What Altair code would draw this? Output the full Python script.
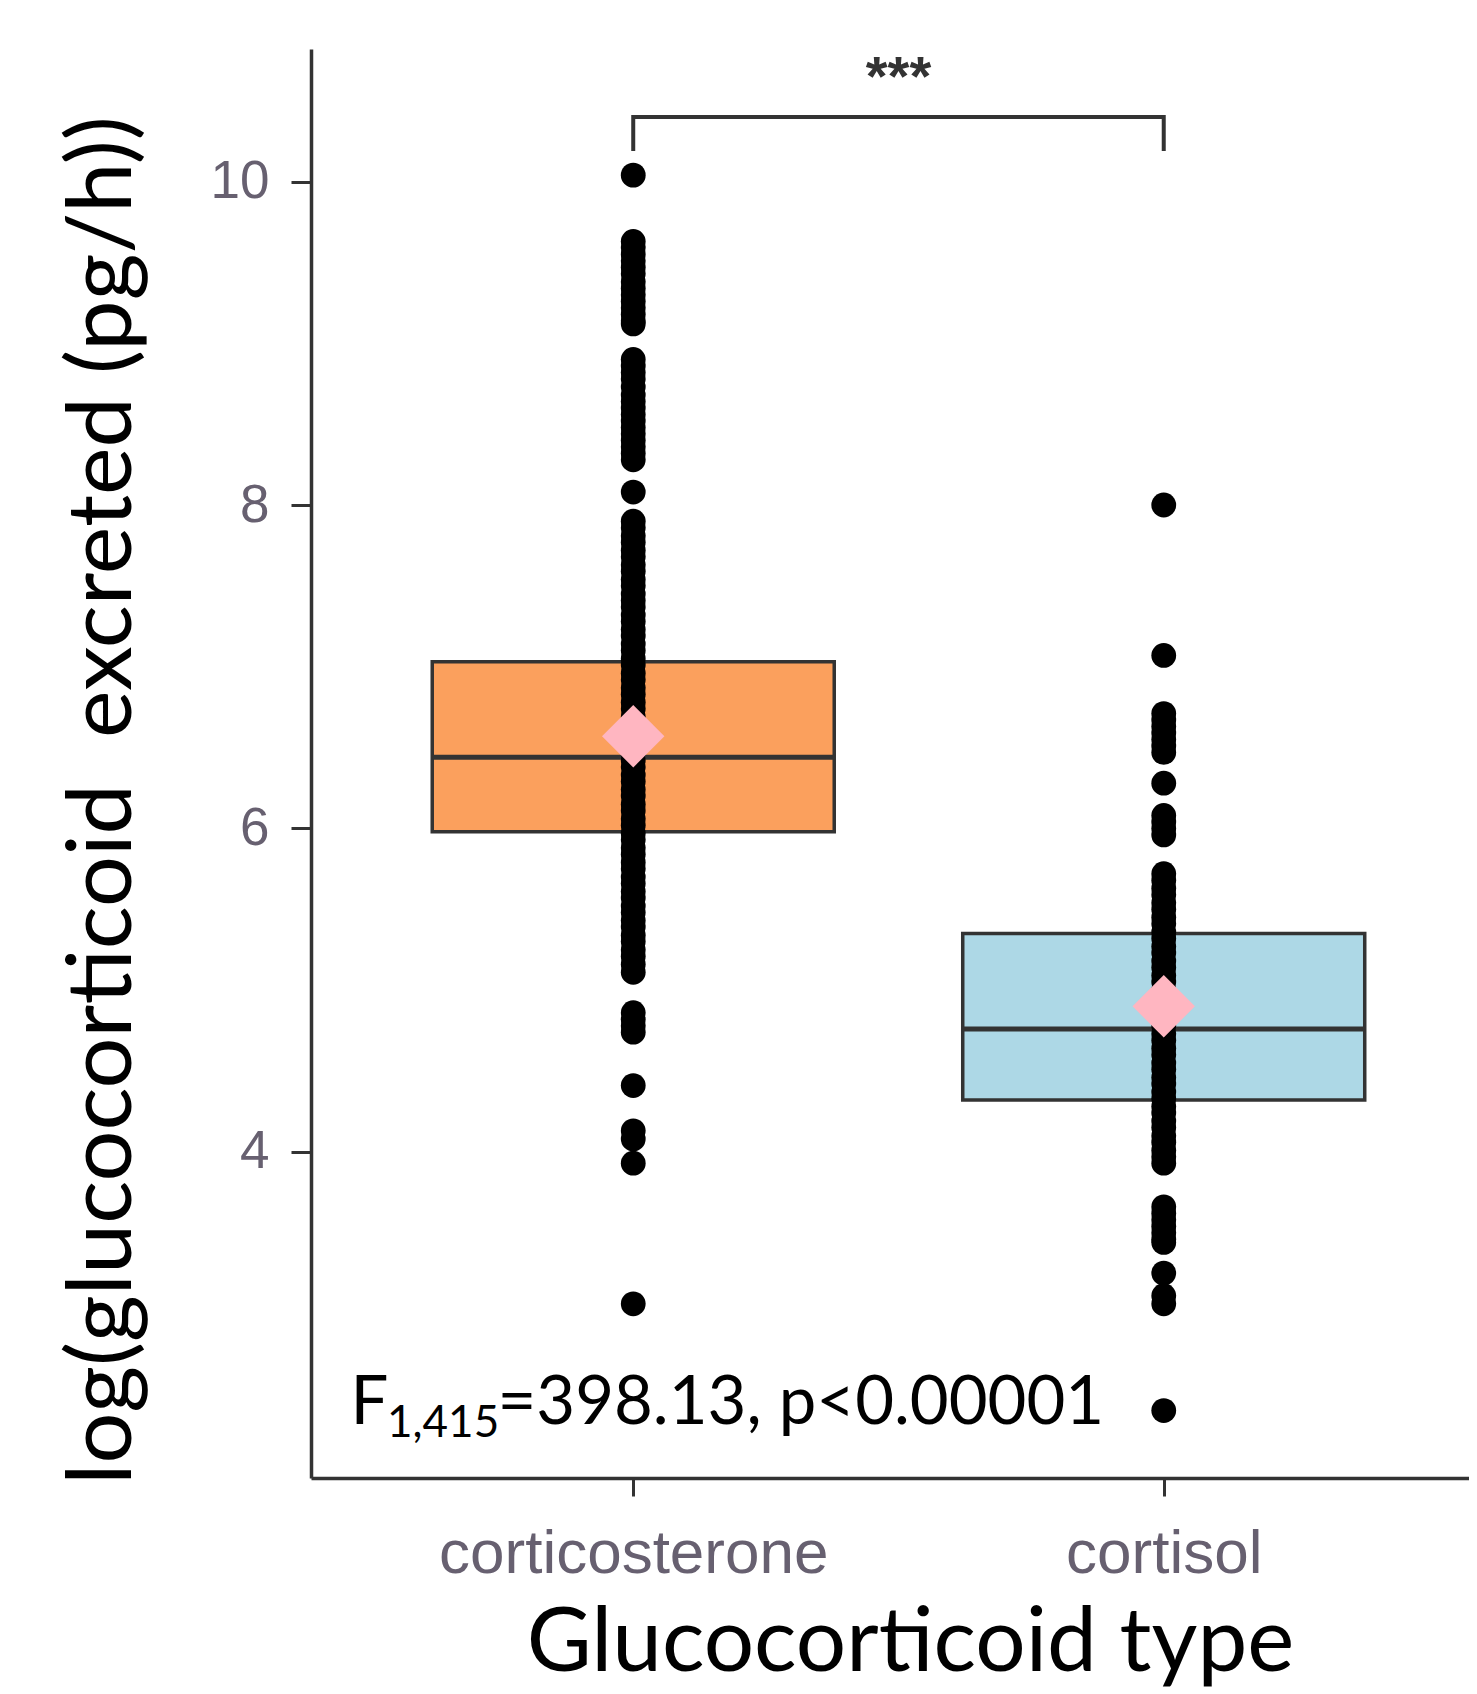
import altair as alt
import pandas as pd

# ---------------- data ----------------
categories = ["corticosterone", "cortisol"]
positions = [1, 2]
q1_vals = [5.98, 4.32]
median_vals = [6.44, 4.76]
q3_vals = [7.03, 5.35]
mean_vals = [6.57, 4.90]
box_colors = ["#FBA05D", "#ADD8E6"]

corticosterone_values = [
    10.04,
    9.63, 9.59, 9.55, 9.51, 9.47, 9.43, 9.38, 9.34, 9.30, 9.26, 9.22, 9.18, 9.14, 9.12,
    8.90, 8.86, 8.82, 8.78, 8.73, 8.68, 8.64, 8.60, 8.56, 8.52, 8.48, 8.44, 8.40, 8.36, 8.32, 8.28,
    8.08,
    7.90, 7.86, 7.81, 7.77, 7.72, 7.68, 7.63, 7.59, 7.54, 7.50, 7.45, 7.41, 7.37, 7.32, 7.28,
    7.23, 7.19, 7.14, 7.10, 7.05, 7.01, 6.96, 6.92, 6.87, 6.83, 6.78, 6.74, 6.69, 6.65, 6.60,
    6.56, 6.51, 6.47, 6.42, 6.38, 6.33, 6.29, 6.24, 6.20, 6.15, 6.11, 6.06, 6.02, 5.97, 5.93,
    5.88, 5.84, 5.79, 5.75, 5.70, 5.66, 5.61, 5.57, 5.52, 5.48, 5.43, 5.39, 5.34, 5.30, 5.25,
    5.21, 5.16, 5.11,
    4.86, 4.82, 4.78, 4.74,
    4.41,
    4.13, 4.08,
    3.93,
    3.06,
]

cortisol_values = [
    8.00,
    7.07,
    6.71, 6.67, 6.63, 6.59, 6.55, 6.51, 6.47,
    6.28,
    6.08, 6.04, 6.00, 5.96,
    5.72, 5.68, 5.63, 5.59, 5.54, 5.50, 5.45, 5.41, 5.36, 5.32, 5.27, 5.23, 5.18, 5.14,
    5.09, 5.05, 5.00, 4.96, 4.91, 4.87, 4.82, 4.78, 4.73, 4.69, 4.64, 4.60, 4.55, 4.51,
    4.46, 4.42, 4.37, 4.33, 4.28, 4.24, 4.19, 4.15, 4.10, 4.06, 4.01, 3.97, 3.93,
    3.66, 3.62, 3.58, 3.54, 3.50, 3.46, 3.44,
    3.25,
    3.11, 3.06,
    2.40,
]

y_ticks = [4, 6, 8, 10]
y_domain = [1.983, 10.82]
x_domain = [0.402, 2.566]

# significance bracket and annotation
bracket_x = [1, 1, 2, 2]
bracket_y = [10.19, 10.40, 10.40, 10.19]
stars_text = "***"
stars_pos = (1.5, 10.535)
f_main = "F"
f_sub = "1,415"
f_rest = "=398.13, p<0.00001"
f_main_pos = (0.467, 2.316)
f_sub_pos = (0.536, 2.236)
f_rest_pos = (0.744, 2.316)

x_title = "Glucocorticoid type"
y_title = "log(glucocorticoid\u00a0 excreted (pg/h))"

# ---------------- tables ----------------
box_df = pd.DataFrame({
    "category": categories, "pos": positions,
    "q1": q1_vals, "median": median_vals, "q3": q3_vals, "mean": mean_vals,
})
pts_df = pd.DataFrame(
    [{"category": categories[0], "pos": positions[0], "value": v} for v in corticosterone_values]
    + [{"category": categories[1], "pos": positions[1], "value": v} for v in cortisol_values]
)
bracket_df = pd.DataFrame({"x": bracket_x, "y": bracket_y, "order": list(range(len(bracket_x)))})

label_expr = " : ".join(
    f"datum.value == {p} ? '{c}'" for p, c in zip(positions[:-1], categories[:-1])
) + f" : '{categories[-1]}'"

xs = alt.Scale(domain=x_domain, nice=False, zero=False)
ys = alt.Scale(domain=y_domain, nice=False, zero=False)

AX = "#333333"
LABEL_COLOR = "#676070"

x_axis = alt.Axis(
    values=positions, labelExpr=label_expr, grid=False,
    title=x_title, titleFont="Lato", titleFontSize=89, titleFontWeight="normal",
    titleColor="black", titleX=599, titleY=192, titleAlign="center", titleBaseline="alphabetic",
    labelFont="Liberation Sans", labelFontSize=62, labelColor=LABEL_COLOR,
    labelBaseline="alphabetic", labelPadding=76, labelFlush=False, labelLimit=2000,
    labelOverlap=False,
    tickSize=18, tickWidth=3, tickColor=AX, domainColor=AX, domainWidth=3.5,
)
y_axis = alt.Axis(
    values=y_ticks, grid=False,
    title=y_title, titleFont="Lato", titleFontSize=90, titleFontWeight="normal",
    titleColor="black", titleAngle=270, titleX=-208, titleY=751,
    titleAlign="center", titleBaseline="middle", titleLimit=3000,
    labelFont="Liberation Sans", labelFontSize=53, labelColor=LABEL_COLOR,
    labelPadding=22, tickSize=20, tickWidth=3, tickColor=AX, domainColor=AX, domainWidth=3.5,
)


def X(field):
    return alt.X(field, scale=xs, axis=x_axis)


def Y(field):
    return alt.Y(field, scale=ys, axis=y_axis)


boxes = alt.Chart(box_df).mark_bar(size=402, stroke=AX, strokeWidth=3.5).encode(
    x=X("pos:Q"),
    y=Y("q1:Q"),
    y2="q3:Q",
    color=alt.Color("category:N", scale=alt.Scale(domain=categories, range=box_colors), legend=None),
)

medians = alt.Chart(box_df).mark_tick(orient="horizontal", size=402, thickness=5, color=AX, opacity=1).encode(
    x=X("pos:Q"),
    y=Y("median:Q"),
)

points = alt.Chart(pts_df).mark_circle(size=615, color="black", opacity=1).encode(
    x=X("pos:Q"),
    y=Y("value:Q"),
)

means = alt.Chart(box_df).mark_point(shape="diamond", filled=True, size=3900, color="#FFB6C1", opacity=1).encode(
    x=X("pos:Q"),
    y=Y("mean:Q"),
)

bracket = alt.Chart(bracket_df).mark_line(color=AX, strokeWidth=4).encode(
    x=X("x:Q"),
    y=Y("y:Q"),
    order="order:Q",
)


def text_layer(txt, pos, font, size, weight="normal", color="black", align="left"):
    df = pd.DataFrame({"x": [pos[0]], "y": [pos[1]], "t": [txt]})
    return alt.Chart(df).mark_text(
        font=font, fontSize=size, fontWeight=weight, color=color,
        align=align, baseline="alphabetic",
    ).encode(
        x=X("x:Q"),
        y=Y("y:Q"),
        text="t:N",
    )


stars = text_layer(stars_text, stars_pos, "Liberation Sans", 56, "bold", "#333333", "center")
ann_f = text_layer(f_main, f_main_pos, "Lato", 67)
ann_sub = text_layer(f_sub, f_sub_pos, "Lato", 44)
ann_rest = text_layer(f_rest, f_rest_pos, "Lato", 67)

chart = alt.layer(
    boxes, medians, points, means, bracket, stars, ann_f, ann_sub, ann_rest
).properties(
    width=1158, height=1429,
    autosize=alt.AutoSizeParams(type="none"),
    padding={"left": 303, "top": 41, "right": 0, "bottom": 216},
    background="white",
).configure_view(stroke=None)

chart.save("out.html", embed_options={"renderer": "svg", "actions": False})
